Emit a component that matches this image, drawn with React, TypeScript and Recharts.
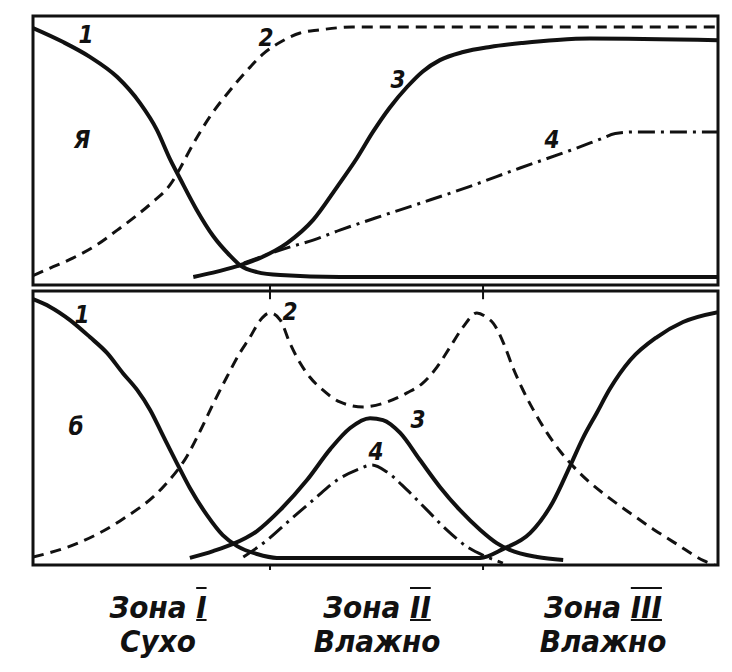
import React from 'react';
import { LineChart, Line, XAxis, YAxis, ReferenceArea, ReferenceLine } from 'recharts';

// x: 0..100 across the panel width, y: 0..100 panel height (schematic, no units)
const topCurve1 = [
  { x: 0, y: 95.5 }, { x: 4.4, y: 90.3 }, { x: 8.3, y: 84.8 }, { x: 12.3, y: 77.3 },
  { x: 15.6, y: 67.7 }, { x: 18.1, y: 57.6 }, { x: 20.0, y: 46.8 }, { x: 21.5, y: 39.4 },
  { x: 23.9, y: 27.9 }, { x: 26.3, y: 18.2 }, { x: 28.8, y: 10.8 }, { x: 30.2, y: 7.4 },
  { x: 32.7, y: 4.8 }, { x: 36.1, y: 3.7 }, { x: 44.8, y: 3.0 }, { x: 100, y: 3.0 },
];
const topCurve2 = [
  { x: 0, y: 3.5 }, { x: 2.5, y: 6.3 }, { x: 5.8, y: 10.0 }, { x: 9.3, y: 14.9 },
  { x: 12.3, y: 20.4 }, { x: 15.2, y: 26.0 }, { x: 17.5, y: 30.9 }, { x: 20.0, y: 37.2 },
  { x: 21.5, y: 43.5 }, { x: 22.9, y: 50.2 }, { x: 25.8, y: 62.5 }, { x: 28.8, y: 72.5 },
  { x: 31.7, y: 81.0 }, { x: 33.6, y: 85.9 }, { x: 36.4, y: 90.7 }, { x: 39.0, y: 93.7 },
  { x: 41.8, y: 94.8 }, { x: 46.6, y: 95.9 }, { x: 100, y: 95.9 },
];
const topCurve3 = [
  { x: 23.4, y: 3.0 }, { x: 26.3, y: 4.6 }, { x: 29.8, y: 7.0 }, { x: 33.1, y: 10.0 },
  { x: 37.1, y: 15.6 }, { x: 40.9, y: 24.2 }, { x: 44.4, y: 36.5 }, { x: 47.3, y: 47.2 },
  { x: 49.6, y: 56.8 }, { x: 52.1, y: 66.0 }, { x: 54.6, y: 73.6 }, { x: 56.9, y: 79.4 },
  { x: 59.4, y: 83.6 }, { x: 62.8, y: 86.6 }, { x: 66.7, y: 88.5 }, { x: 71.5, y: 90.0 },
  { x: 76.5, y: 91.1 }, { x: 81.3, y: 91.6 }, { x: 100, y: 91.0 },
];
const topCurve4 = [
  { x: 30.8, y: 8.2 }, { x: 37.1, y: 13.8 }, { x: 40.9, y: 16.7 }, { x: 44.8, y: 20.4 },
  { x: 50.1, y: 25.0 }, { x: 57.0, y: 30.8 }, { x: 63.6, y: 36.5 }, { x: 71.1, y: 43.5 },
  { x: 78.4, y: 50.0 }, { x: 82.8, y: 54.2 }, { x: 85.0, y: 56.3 }, { x: 88.0, y: 56.9 },
  { x: 100, y: 56.9 },
];

const botCurve1 = [
  { x: 0, y: 97.0 }, { x: 2.5, y: 94.2 }, { x: 5.4, y: 89.4 }, { x: 8.3, y: 83.2 },
  { x: 10.8, y: 77.4 }, { x: 13.1, y: 70.1 }, { x: 15.2, y: 63.9 }, { x: 17.1, y: 56.6 },
  { x: 19.0, y: 47.1 }, { x: 21.0, y: 37.2 }, { x: 22.9, y: 28.1 }, { x: 25.4, y: 18.2 },
  { x: 27.7, y: 10.9 }, { x: 29.8, y: 6.9 }, { x: 32.7, y: 4.0 }, { x: 35.6, y: 2.6 },
  { x: 50.7, y: 2.6 }, { x: 65.3, y: 2.6 }, { x: 68.6, y: 5.8 }, { x: 72.6, y: 11.7 },
  { x: 75.9, y: 23.0 }, { x: 78.4, y: 36.1 }, { x: 80.3, y: 46.4 }, { x: 82.3, y: 55.5 },
  { x: 84.2, y: 64.2 }, { x: 87.2, y: 74.8 }, { x: 91.1, y: 83.2 }, { x: 94.9, y: 88.7 },
  { x: 100, y: 92.3 },
];
const botCurve2 = [
  { x: 0, y: 2.9 }, { x: 6.6, y: 8.0 }, { x: 12.7, y: 16.1 }, { x: 19.0, y: 28.5 },
  { x: 22.5, y: 39.8 }, { x: 24.4, y: 48.9 }, { x: 26.3, y: 58.8 }, { x: 28.3, y: 68.6 },
  { x: 30.2, y: 77.4 }, { x: 31.7, y: 83.2 }, { x: 33.1, y: 89.1 }, { x: 34.6, y: 92.0 },
  { x: 36.1, y: 89.4 }, { x: 37.5, y: 81.0 }, { x: 39.0, y: 73.7 }, { x: 40.4, y: 68.6 },
  { x: 42.3, y: 63.9 }, { x: 44.8, y: 59.5 }, { x: 48.2, y: 57.7 }, { x: 51.7, y: 59.5 },
  { x: 54.6, y: 62.8 }, { x: 56.9, y: 66.4 }, { x: 59.0, y: 72.3 }, { x: 60.9, y: 79.6 },
  { x: 62.8, y: 86.9 }, { x: 64.8, y: 92.0 }, { x: 66.3, y: 90.2 }, { x: 67.2, y: 88.2 },
  { x: 68.7, y: 80.9 }, { x: 70.1, y: 71.8 }, { x: 71.6, y: 63.5 }, { x: 73.0, y: 56.8 },
  { x: 75.0, y: 48.4 }, { x: 76.9, y: 41.7 }, { x: 78.9, y: 35.9 }, { x: 81.3, y: 30.1 },
  { x: 84.2, y: 24.3 }, { x: 87.2, y: 18.9 }, { x: 90.6, y: 13.0 }, { x: 94.0, y: 7.6 },
  { x: 97.9, y: 1.6 }, { x: 100, y: -0.5 },
];
const botCurve3 = [
  { x: 22.9, y: 2.6 }, { x: 26.3, y: 5.1 }, { x: 29.2, y: 7.7 }, { x: 32.7, y: 12.4 },
  { x: 36.1, y: 20.1 }, { x: 40.0, y: 31.0 }, { x: 43.4, y: 42.3 }, { x: 46.3, y: 50.0 },
  { x: 49.2, y: 53.6 }, { x: 51.1, y: 52.9 }, { x: 53.6, y: 48.2 }, { x: 56.5, y: 38.3 },
  { x: 59.4, y: 28.5 }, { x: 62.3, y: 20.1 }, { x: 65.3, y: 12.8 }, { x: 67.7, y: 8.0 },
  { x: 69.6, y: 5.5 }, { x: 73.6, y: 2.9 }, { x: 77.4, y: 1.8 },
];
const botCurve4 = [
  { x: 30.7, y: 2.9 }, { x: 34.2, y: 9.1 }, { x: 37.5, y: 16.4 }, { x: 40.9, y: 23.7 },
  { x: 44.4, y: 31.0 }, { x: 47.3, y: 34.7 }, { x: 49.5, y: 36.5 }, { x: 51.7, y: 33.9 },
  { x: 54.6, y: 27.4 }, { x: 57.5, y: 20.1 }, { x: 60.4, y: 12.8 }, { x: 63.4, y: 6.6 },
  { x: 66.3, y: 2.9 }, { x: 68.6, y: 0.7 },
];

const zoneEdges = [34.6, 65.7];
const zoneLabels = [
  { zone: 'I', state: 'Сухо' },
  { zone: 'II', state: 'Влажно' },
  { zone: 'III', state: 'Влажно' },
];

const ink = '#111';
const SOLID = { stroke: ink, strokeWidth: 4 };
const DASH = { stroke: ink, strokeWidth: 3, strokeDasharray: '11 7' };
const DASHDOT = { stroke: ink, strokeWidth: 3, strokeDasharray: '17 6 3 6' };

const labelFont = "'Liberation Sans Narrow', 'DejaVu Sans Condensed', 'Liberation Sans', sans-serif";

const Panel = ({ curves, top, height, margin, ticksTop, ticksBottom }: any) => (
  <div style={{ position: 'absolute', left: 0, top }}>
    <LineChart width={732} height={height} margin={margin}>
      <XAxis type="number" dataKey="x" domain={[0, 100]} hide allowDataOverflow />
      <YAxis type="number" domain={[0, 100]} hide allowDataOverflow />
      <ReferenceArea x1={0} x2={100} y1={0} y2={100} fill="none" stroke={ink} strokeWidth={3} fillOpacity={0} ifOverflow="visible" />
      {ticksTop && zoneEdges.map((e) => (
        <ReferenceLine key={'t' + e} segment={[{ x: e, y: 100 }, { x: e, y: 97 }]} stroke={ink} strokeWidth={2} ifOverflow="visible" />
      ))}
      {ticksBottom && zoneEdges.map((e) => (
        <ReferenceLine key={'b' + e} segment={[{ x: e, y: 0 }, { x: e, y: -2.5 }]} stroke={ink} strokeWidth={2} ifOverflow="visible" />
      ))}
      {curves.map((c: any, i: number) => (
        <Line key={i} data={c.data} dataKey="y" type="monotone" dot={false} activeDot={false}
          isAnimationActive={false} fill="none" {...c.style} />
      ))}
    </LineChart>
  </div>
);

const Tag = ({ x, y, children, size = 24 }: any) => (
  <div style={{
    position: 'absolute', left: x, top: y, transform: 'translate(-50%, -50%)',
    fontFamily: labelFont, fontStyle: 'italic', fontWeight: 700, fontSize: size, color: ink, lineHeight: 1,
  }}>{children}</div>
);

export default function App() {
  return (
    <div style={{ position: 'absolute', left: 0, top: 0, width: 732, height: 672, background: '#fff', overflow: 'hidden' }}>
      <Panel
        top={0} height={292}
        margin={{ top: 16, right: 14, bottom: 7, left: 33 }}
        curves={[
          { data: topCurve1, style: SOLID },
          { data: topCurve2, style: DASH },
          { data: topCurve3, style: SOLID },
          { data: topCurve4, style: DASHDOT },
        ]}
        ticksBottom
      />
      <Panel
        top={286} height={284}
        margin={{ top: 5, right: 14, bottom: 5, left: 33 }}
        curves={[
          { data: botCurve1, style: SOLID },
          { data: botCurve2, style: DASH },
          { data: botCurve3, style: SOLID },
          { data: botCurve4, style: DASHDOT },
        ]}
        ticksTop ticksBottom
      />

      <Tag x={86} y={35}>1</Tag>
      <Tag x={266} y={38}>2</Tag>
      <Tag x={398} y={80}>3</Tag>
      <Tag x={552} y={140}>4</Tag>
      <Tag x={82} y={140}>Я</Tag>

      <Tag x={82} y={315}>1</Tag>
      <Tag x={290} y={312}>2</Tag>
      <Tag x={418} y={420}>3</Tag>
      <Tag x={376} y={452}>4</Tag>
      <Tag x={76} y={427}>б</Tag>

      {zoneLabels.map((z, i) => {
        const cx = [158, 377, 603][i];
        return (
          <div key={z.zone} style={{
            position: 'absolute', left: cx, top: 590, transform: 'translateX(-50%)', textAlign: 'center',
            fontFamily: labelFont, fontStyle: 'italic', fontWeight: 700, fontSize: 31, lineHeight: '34px', color: ink, whiteSpace: 'nowrap',
          }}>
            <div>Зона <span style={{ textDecoration: 'underline overline', textDecorationThickness: 2 }}>{z.zone}</span></div>
            <div>{z.state}</div>
          </div>
        );
      })}
    </div>
  );
}
